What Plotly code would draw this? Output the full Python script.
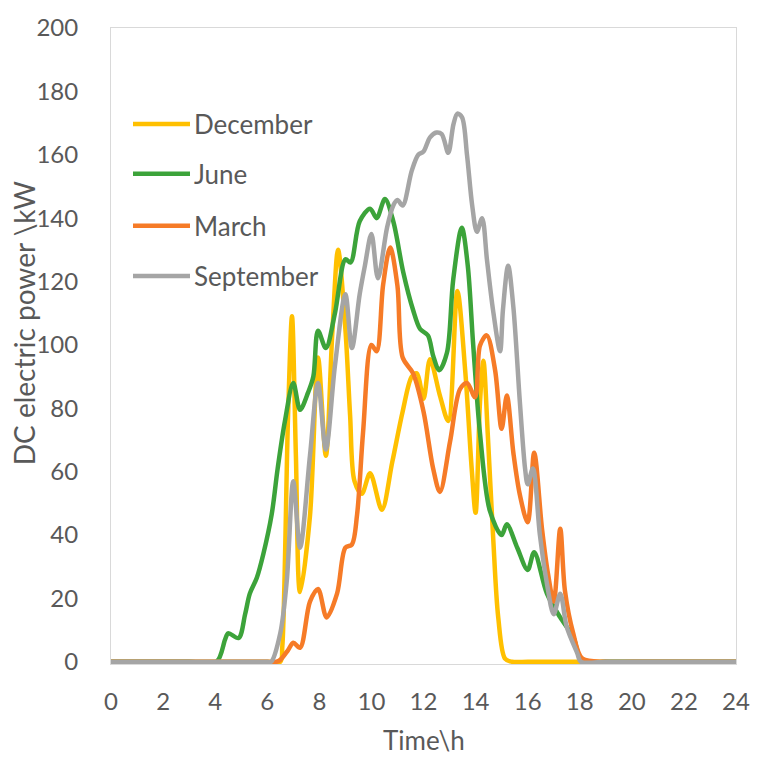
import plotly.graph_objects as go

# ---- data ----
dec_x = [0, 1, 2, 3, 4, 5, 6, 6.5, 6.58, 6.8, 6.95, 7.1, 7.26, 7.64, 7.95, 8.25,
         8.5, 8.72, 9.0, 9.18, 9.35, 9.63, 9.95, 10.4, 10.8, 11.2,
         11.55, 11.75, 12.0, 12.25, 12.63, 12.95, 13.3, 13.6, 13.85, 14.0,
         14.17, 14.3, 14.47, 14.67, 14.87, 15.13, 15.4, 16, 17, 18, 19, 20, 21, 22, 23, 24]
dec_y = [0, 0, 0, 0, 0, 0, 0, 0, 5, 78, 109, 65, 22, 46, 96, 65,
         104, 130, 105, 78, 57, 53, 59.5, 48, 63, 79,
         90, 91, 83, 95.5, 84, 76, 117, 92, 61, 47,
         82, 95, 71.5, 40, 14, 1, 0, 0, 0, 0, 0, 0, 0, 0, 0, 0]

jun_x = [0, 1, 2, 3, 4.05, 4.38, 4.5, 4.9, 5.15, 5.33, 5.6, 5.85, 6.17,
         6.4, 6.68, 7.0, 7.26, 7.57, 7.77, 7.95, 8.25, 8.6, 9.0,
         9.2, 9.55, 9.95, 10.2, 10.52, 10.84, 11.22, 11.6, 11.87, 12.17,
         12.37, 12.6, 12.9, 13.14, 13.47, 13.7, 13.9, 14.17, 14.55, 15.0,
         15.2, 15.6, 16.0, 16.25, 16.74, 17.25, 17.75, 18.1, 19, 20, 21, 22, 23, 24]
jun_y = [0, 0, 0, 0, 0, 7, 9, 7.5, 15, 21.5, 26.5, 34, 46.5,
         61, 76, 88, 79.5, 85, 90, 104.5, 99, 110, 127,
         126, 139, 143, 140, 146, 139, 123, 111, 105, 103,
         96.6, 92, 97.5, 120.5, 137, 125, 101, 72, 47.6, 40,
         43.4, 36, 29, 34.6, 21.5, 14, 7.8, 0, 0, 0, 0, 0, 0, 0]

mar_x = [0, 1, 2, 3, 4, 5, 6, 6.35, 6.5, 6.8, 7.0, 7.26, 7.64, 7.95, 8.28, 8.68,
         9.0, 9.25, 9.45, 9.68, 10.0, 10.2, 10.45, 10.72, 11.0, 11.2,
         11.6, 12.0, 12.37, 12.63, 13.02, 13.4, 13.67, 13.98, 14.17, 14.43,
         14.75, 15.0, 15.2, 15.45, 15.7, 16.0, 16.25, 16.55, 16.78, 17.0,
         17.25, 17.43, 17.75, 18.1, 19, 20, 21, 22, 23, 24]
mar_y = [0, 0, 0, 0, 0, 0, 0, 0, 0.6, 3.7, 6, 4.4, 19, 23, 14, 21.5,
         36, 37, 46.5, 72.5, 100, 98, 119, 130.7, 118.6, 96,
         91, 79, 61, 53.6, 69.5, 86, 88, 83.5, 99.8, 103,
         92, 73.5, 84, 66, 52.7, 44, 66, 42, 27.8, 19,
         42, 22.5, 9, 1, 0, 0, 0, 0, 0, 0]

sep_x = [0, 1, 2, 3, 4, 5, 6, 6.15, 6.5, 6.75, 7.0, 7.26, 7.64, 7.95, 8.25, 8.6,
         9.0, 9.25, 9.55, 9.75, 10.0, 10.25, 10.6, 10.84, 11.0, 11.2,
         11.55, 11.8, 12.0, 12.25, 12.5, 12.7, 12.95, 13.15, 13.3, 13.48,
         13.67, 13.87, 14.05, 14.25, 14.44, 14.67, 14.94, 15.05, 15.25, 15.45,
         15.7, 15.9, 16.0, 16.2, 16.47, 16.74, 17.0, 17.25, 17.5, 17.9,
         18.05, 19, 20, 21, 22, 23, 24]
sep_y = [0, 0, 0, 0, 0, 0, 0, 0, 9, 25.6, 57, 36, 65, 88, 67, 93.5,
         116, 99, 116, 125, 135, 121, 137, 144, 145.7, 144,
         155, 160, 161, 165.5, 167, 166.5, 160.6, 169.6, 173, 171.8,
         160, 144, 135.7, 140, 126.6, 111, 98, 111, 125, 112,
         82, 61, 56, 61, 40, 24.7, 15, 21.5, 11, 2.8,
         0, 0, 0, 0, 0, 0, 0]

series_names = ["December", "June", "March", "September"]
series_x = [dec_x, jun_x, mar_x, sep_x]
series_y = [dec_y, jun_y, mar_y, sep_y]
series_colors = ["#FFC000", "#3CA33A", "#F67B27", "#A5A5A5"]

x_ticks = list(range(0, 25, 2))
y_ticks = list(range(0, 201, 20))

FONT = "Lato"
TXT = "#595959"
LW = 4.5

fig = go.Figure()
for name, xs, ys, col in zip(series_names, series_x, series_y, series_colors):
    fig.add_trace(go.Scatter(
        x=xs, y=ys, mode="lines", name=name, showlegend=False,
        line=dict(color=col, width=LW, shape="spline", smoothing=0.9),
        hoverinfo="x+y+name",
    ))

# manual legend (long line samples as in the reference)
leg_y = [0.849, 0.771, 0.689, 0.610]
shapes = []
annotations = []
for name, col, ly in zip(series_names, series_colors, leg_y):
    shapes.append(dict(type="line", xref="paper", yref="paper",
                       x0=0.0352, x1=0.1264, y0=ly, y1=ly,
                       line=dict(color=col, width=LW)))
    annotations.append(dict(xref="paper", yref="paper", x=0.1300, y=ly,
                            xanchor="left", yanchor="middle", showarrow=False,
                            text=name, font=dict(family=FONT, size=26, color=TXT)))

annotations.append(dict(xref="paper", yref="paper", x=-0.139, y=0.536,
                        xanchor="center", yanchor="middle", showarrow=False,
                        textangle=-90, text="DC electric power \\kW",
                        font=dict(family=FONT, size=28, color=TXT)))
annotations.append(dict(xref="paper", yref="paper", x=0.5, y=-0.119,
                        xanchor="center", yanchor="middle", showarrow=False,
                        text="Time\\h",
                        font=dict(family=FONT, size=26, color=TXT)))

fig.update_layout(
    width=762, height=765,
    margin=dict(l=111, r=26, t=24, b=101),
    paper_bgcolor="white", plot_bgcolor="white",
    shapes=shapes, annotations=annotations,
    showlegend=False,
    xaxis=dict(range=[0, 24], tickvals=x_ticks, ticktext=[str(v) for v in x_ticks],
               showgrid=False, zeroline=False, showline=True, mirror=True,
               linecolor="#D9D9D9", linewidth=1, ticks="",
               ticklabelstandoff=16,
               tickfont=dict(family=FONT, size=24, color=TXT)),
    yaxis=dict(range=[-0.7, 200], tickvals=y_ticks, ticktext=[str(v) for v in y_ticks],
               showgrid=False, zeroline=False, showline=True, mirror=True,
               linecolor="#D9D9D9", linewidth=1, ticks="",
               ticklabelstandoff=27,
               tickfont=dict(family=FONT, size=24, color=TXT)),
)

fig.write_html("out.html")
